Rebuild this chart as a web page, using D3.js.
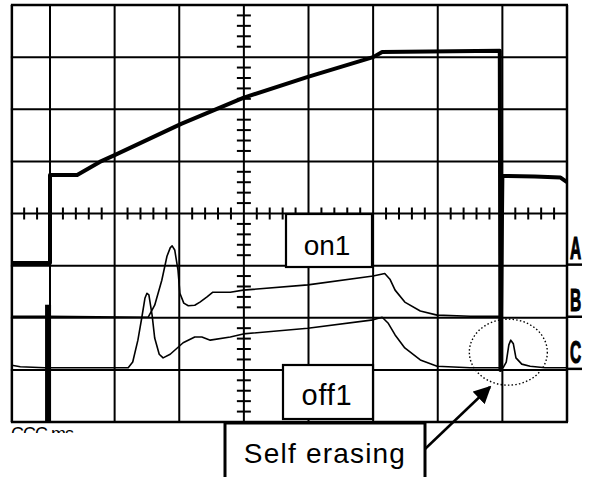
<!DOCTYPE html>
<meta charset="utf-8">

<head>
    <style type="text/css">
        body { margin: 0; background: #fff; }
        .grid line { stroke: #000; stroke-width: 2; }
        .tick-mark { stroke: #000; stroke-width: 2; }
        .trace-thick { fill: none; stroke: #000; stroke-width: 4; stroke-linejoin: round; }
        .trace-thin { fill: none; stroke: #000; stroke-width: 1.6; stroke-linejoin: round; }
        .box { fill: #fff; stroke: #000; stroke-width: 2.2; }
        .box-text { font-family: "Liberation Sans", Arial, sans-serif; font-size: 28px; text-anchor: middle; }
        .ch-label { font-family: "Liberation Sans", Arial, sans-serif; font-weight: bold; font-size: 31px; stroke: #000; stroke-width: 1.2px; }
    </style>
</head>

<body>
    <script src="https://cdn.jsdelivr.net/npm/d3@7"></script>

    <script>
        // screen in divisions: x 0..8 (left edge cut at -0.59), y 0..8 from bottom
        var xLeft = -0.59;
        var xDivs = [0, 1, 2, 3, 4, 5, 6, 7, 8];
        var yDivs = [0, 1, 2, 3, 4, 5, 6, 7, 8];

        // channel 1 (thick ramp trace)
        var ch1X = [-0.59, 0, 0, 0.42, 0.77, 1.0, 2.03, 2.99, 3.99, 5.0, 5.14, 6.96, 6.97, 7.0, 7.5, 7.9, 8.0];
        var ch1Y = [3.05, 3.05, 4.74, 4.74, 4.99, 5.12, 5.72, 6.22, 6.62, 7.0, 7.1, 7.12, 1.0, 4.72, 4.71, 4.69, 4.6];
        // short spike at the left edge
        var spikeX = [-0.03, -0.03];
        var spikeY = [0, 2.25];

        // "on1" trace (B)
        var onX = [-0.59, -0.05, 1.52, 1.62, 1.73, 1.81, 1.86, 1.89, 1.93, 1.98, 2.01, 2.07, 2.14, 2.24, 2.32, 2.43, 2.52, 2.79, 2.99, 3.99, 5.0, 5.18, 5.26, 5.34, 5.49, 5.73, 5.99, 6.5, 6.95];
        var onY = [2.03, 2.03, 2.01, 2.24, 2.72, 3.18, 3.34, 3.38, 3.3, 2.92, 2.47, 2.28, 2.23, 2.24, 2.3, 2.4, 2.49, 2.49, 2.53, 2.63, 2.8, 2.85, 2.74, 2.53, 2.3, 2.13, 2.05, 2.03, 2.03];

        // "off1" trace (C) with the self erasing pulse
        var offX = [-0.59, -0.46, -0.08, 1.21, 1.28, 1.36, 1.42, 1.47, 1.5, 1.53, 1.58, 1.62, 1.69, 1.75, 1.86, 2.06, 2.24, 2.35, 2.48, 2.79, 2.99, 3.99, 5.0, 5.14, 5.23, 5.34, 5.49, 5.73, 5.99, 6.5, 7.01, 7.06, 7.1, 7.13, 7.17, 7.21, 7.3, 7.43, 7.66, 8.0];
        var offY = [1.09, 1.06, 1.04, 1.04, 1.15, 1.57, 2.0, 2.38, 2.47, 2.44, 2.05, 1.61, 1.3, 1.23, 1.3, 1.52, 1.63, 1.63, 1.57, 1.63, 1.69, 1.8, 1.96, 2.01, 1.9, 1.67, 1.42, 1.19, 1.07, 1.04, 1.04, 1.15, 1.48, 1.57, 1.5, 1.23, 1.11, 1.07, 1.04, 1.04];

        var chNames = ["A", "B", "C"];
        var chLevels = [3, 2, 1];

        var width = 590, height = 477;

        var xScale = d3.scaleLinear().domain([0, 8]).range([50, 567]);
        var yScale = d3.scaleLinear().domain([0, 8]).range([422, 5]);

        var svg = d3.select("body").append("svg")
            .attr("width", width)
            .attr("height", height);

        // grid
        var grid = svg.append("g").attr("class", "grid");
        grid.selectAll(".v")
            .data([xLeft].concat(xDivs))
            .enter().append("line")
            .attr("x1", function (d) { return xScale(d); })
            .attr("x2", function (d) { return xScale(d); })
            .attr("y1", yScale(8))
            .attr("y2", yScale(0))
            .style("stroke-width", function (d, i) { return (i == 0 || d == 8) ? 2.5 : 2; });
        grid.selectAll(".h")
            .data(yDivs)
            .enter().append("line")
            .attr("x1", xScale(xLeft) - 1)
            .attr("x2", xScale(8) + 1)
            .attr("y1", function (d) { return yScale(d); })
            .attr("y2", function (d) { return yScale(d); })
            .style("stroke-width", function (d) { return (d == 0 || d == 8) ? 2.5 : 2; });

        // minor ticks on the centre axes
        var xMinor = d3.range(-2, 41).map(function (i) { return i * 0.2; })
            .filter(function (d) { return d >= xLeft && Math.abs(d - Math.round(d)) > 0.01; });
        var yMinor = d3.range(1, 40).map(function (i) { return i * 0.2; })
            .filter(function (d) { return Math.abs(d - Math.round(d)) > 0.01; });
        svg.selectAll(".xt")
            .data(xMinor)
            .enter().append("line")
            .attr("class", "tick-mark")
            .attr("x1", function (d) { return xScale(d); })
            .attr("x2", function (d) { return xScale(d); })
            .attr("y1", yScale(4) - 6)
            .attr("y2", yScale(4) + 6);
        svg.selectAll(".yt")
            .data(yMinor)
            .enter().append("line")
            .attr("class", "tick-mark")
            .attr("x1", xScale(3) - 7)
            .attr("x2", xScale(3) + 7)
            .attr("y1", function (d) { return yScale(d); })
            .attr("y2", function (d) { return yScale(d); });

        // traces
        var line = d3.line()
            .x(function (d) { return xScale(d[0]); })
            .y(function (d) { return yScale(d[1]); });

        function zipXY(xs, ys) {
            return xs.map(function (x, i) { return [x, ys[i]]; });
        }

        svg.append("path").datum(zipXY(onX, onY)).attr("class", "trace-thin").attr("d", line);
        svg.append("path").datum(zipXY(offX, offY)).attr("class", "trace-thin").attr("d", line);
        svg.append("path").datum(zipXY(ch1X, ch1Y)).attr("class", "trace-thick").attr("d", line);
        svg.append("path").datum(zipXY(spikeX, spikeY)).attr("class", "trace-thick")
            .style("stroke-width", 6).attr("d", line);

        // channel markers on the right
        var ch = svg.selectAll(".ch")
            .data(chNames)
            .enter().append("g");
        ch.append("line")
            .attr("x1", xScale(8))
            .attr("x2", xScale(8) + 15)
            .attr("y1", function (d, i) { return yScale(chLevels[i]) - 1; })
            .attr("y2", function (d, i) { return yScale(chLevels[i]) - 1; })
            .attr("stroke", "#000")
            .attr("stroke-width", 2.5);
        ch.append("text")
            .attr("class", "ch-label")
            .attr("transform", function (d, i) {
                return "translate(" + (xScale(8) + 3) + "," + (yScale(chLevels[i]) - 7) + ") scale(0.5,1)";
            })
            .text(function (d) { return d; });

        // label boxes
        svg.append("rect").attr("class", "box")
            .attr("x", 286).attr("y", 214).attr("width", 86).attr("height", 53);
        svg.append("text").attr("class", "box-text")
            .attr("x", 327).attr("y", 255).text("on1");

        svg.append("rect").attr("class", "box")
            .attr("x", 283).attr("y", 365).attr("width", 90).attr("height", 54);
        svg.append("text").attr("class", "box-text")
            .attr("x", 327).attr("y", 405)
            .style("font-size", "29px")
            .style("letter-spacing", "0.8px")
            .text("off1");

        // dotted circle round the self erasing pulse
        svg.append("ellipse")
            .attr("cx", xScale(7.1) - 0.5)
            .attr("cy", yScale(1.34))
            .attr("rx", 39)
            .attr("ry", 33)
            .attr("fill", "none")
            .attr("stroke", "#000")
            .attr("stroke-width", 1.4)
            .attr("stroke-dasharray", "1.5,2.2");

        // Self erasing box and arrow
        svg.append("rect").attr("class", "box")
            .attr("x", 225).attr("y", 423).attr("width", 200).attr("height", 70)
            .style("stroke-width", 3);
        svg.append("text").attr("class", "box-text")
            .attr("x", 325).attr("y", 463)
            .style("letter-spacing", "1.2px")
            .text("Self erasing");

        svg.append("defs").append("marker")
            .attr("id", "arrow")
            .attr("viewBox", "0 0 10 10")
            .attr("refX", 9).attr("refY", 5)
            .attr("markerWidth", 7).attr("markerHeight", 7)
            .attr("markerUnits", "strokeWidth")
            .attr("orient", "auto")
            .append("path").attr("d", "M0,0 L10,5 L0,10 Z").attr("fill", "#000");
        svg.append("line")
            .attr("x1", 425).attr("y1", 449)
            .attr("x2", 490).attr("y2", 387)
            .attr("stroke", "#000")
            .attr("stroke-width", 2.5)
            .attr("marker-end", "url(#arrow)");

        // cut-off time/div readout under the screen
        svg.append("clipPath").attr("id", "cut")
            .append("rect").attr("x", 0).attr("y", 425).attr("width", 120).attr("height", 8);
        svg.append("text")
            .attr("x", 11).attr("y", 440)
            .attr("clip-path", "url(#cut)")
            .style("font-family", "Liberation Sans, Arial, sans-serif")
            .style("font-size", "18px")
            .style("letter-spacing", "-1px")
            .text("CCC  ms");
    </script>
</body>
